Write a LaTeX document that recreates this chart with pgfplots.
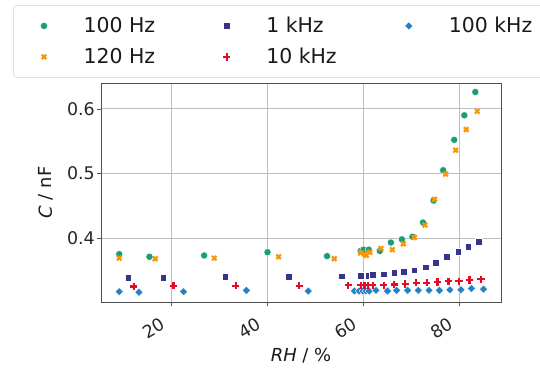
\documentclass[border=0pt]{standalone}
\usepackage{fontspec}
\setmainfont{DejaVu Sans}
\usepackage{pgfplots}
\pgfplotsset{compat=1.18}
\definecolor{cgreen}{RGB}{27,158,119}
\definecolor{corange}{RGB}{247,150,10}
\definecolor{cnavy}{RGB}{54,52,140}
\definecolor{cred}{RGB}{228,10,40}
\definecolor{cblue}{RGB}{34,128,196}
\definecolor{gridc}{RGB}{190,190,190}
\definecolor{framec}{RGB}{80,80,80}
\begin{document}
\begin{tikzpicture}
\path[use as bounding box] (0,0) rectangle (540bp,369bp);
\begin{axis}[
  at={(101bp,67bp)}, anchor=south west,
  scale only axis, width=400bp, height=219bp,
  xmin=5.4, xmax=88.75, ymin=0.301, ymax=0.640,
  xtick={20,40,60,80}, ytick={0.4,0.5,0.6},
  /pgf/number format/assume math mode=true,
  yticklabels={0.4,0.5,0.6},
  tick label style={font=\fontsize{17.5}{20}\selectfont, text=black!85},
  yticklabel style={anchor=east, inner sep=2bp},
  xticklabel style={rotate=30, anchor=north east, inner sep=2bp, xshift=-13bp, yshift=-2bp},
  tick align=outside, major tick length=4bp,
  tick style={framec, line width=0.6bp},
  xtick pos=bottom, ytick pos=left,
  axis line style={framec, line width=0.8bp},
  grid=major, major grid style={gridc, line width=0.7bp},
  xlabel={\textit{RH} / \%},
  ylabel={\textit{C} / nF},
  label style={font=\fontsize{18}{21}\selectfont, text=black!90},
  xlabel shift=2bp,
  ylabel shift=8bp,
  legend columns=3,
  legend style={at={(-0.22,1.356)}, anchor=north west, draw=gray!25,
    rounded corners=3bp, line width=0.8bp,
    font=\fontsize{20.5}{23}\selectfont, text=black!90,
    inner xsep=27bp, inner ysep=10bp, row sep=10bp,
    /tikz/every odd column/.append style={column sep=34bp},
    /tikz/every even column/.append style={column sep=66bp}},
  legend cell align=left,
]
\addplot[only marks, mark=*, mark size=3.6bp, cgreen, mark options={draw=white, line width=0.4bp, fill=cgreen}] coordinates {
(9.2,0.375) (15.5,0.371) (26.9,0.373) (40.1,0.378) (52.5,0.372)
(59.5,0.380) (60.1,0.382) (61.2,0.382) (63.5,0.380) (65.8,0.393)
(68.1,0.398) (70.3,0.402) (72.5,0.424) (74.7,0.458) (76.7,0.505)
(79.0,0.552) (81.1,0.590) (83.4,0.626)};
\addlegendentry{100 Hz}
\addplot[only marks, mark=square*, mark size=3.3bp, cnavy, mark options={draw=white, line width=0.4bp, fill=cnavy}] coordinates {
(11.1,0.339) (18.4,0.339) (31.25,0.340) (44.5,0.340) (55.6,0.341)
(59.5,0.342) (60.9,0.341) (61.2,0.342) (62.0,0.343) (64.3,0.344) (66.5,0.346)
(68.5,0.348) (70.7,0.350) (73.0,0.355) (75.2,0.362) (77.4,0.371)
(79.8,0.379) (81.9,0.387) (84.1,0.394)};
\addlegendentry{1 kHz}
\addplot[only marks, mark=square*, mark size=2.9bp, cblue, mark options={rotate=45, draw=white, line width=0.4bp, fill=cblue}] coordinates {
(9.2,0.317) (13.3,0.316) (22.6,0.317) (35.7,0.319) (48.6,0.318)
(58.2,0.318) (59.2,0.318) (60.0,0.318) (60.6,0.318) (61.3,0.318) (62.7,0.319)
(65.1,0.318) (67.0,0.319) (69.3,0.319) (71.5,0.319) (73.75,0.319)
(75.9,0.319) (78.1,0.320) (80.4,0.320) (82.6,0.322) (85.1,0.321)};
\addlegendentry{100 kHz}
\addplot[only marks, mark=x, mark size=3.2bp, corange, mark options={line width=2.2bp}] coordinates {
(9.2,0.369) (16.7,0.368) (29.0,0.369) (42.4,0.371) (54.0,0.368)
(59.5,0.377) (60.3,0.375) (60.7,0.373) (61.4,0.378) (63.75,0.384)
(66.1,0.382) (68.4,0.391) (70.7,0.401) (72.9,0.420) (74.9,0.460)
(77.2,0.499) (79.3,0.536) (81.5,0.568) (83.8,0.596)};
\addlegendentry{120 Hz}
\addplot[only marks, mark=+, mark size=3.6bp, cred, mark options={line width=2.2bp}] coordinates {
(12.2,0.325) (20.5,0.326) (33.5,0.326) (46.7,0.326) (56.9,0.327)
(59.5,0.327) (60.3,0.327) (61.0,0.327) (62.0,0.327) (64.3,0.327)
(66.5,0.328) (68.8,0.329) (71.1,0.331) (73.3,0.331) (75.5,0.332)
(77.8,0.333) (80.0,0.333) (82.2,0.335) (84.6,0.336)};
\addlegendentry{10 kHz}
\end{axis}
\end{tikzpicture}
\end{document}
